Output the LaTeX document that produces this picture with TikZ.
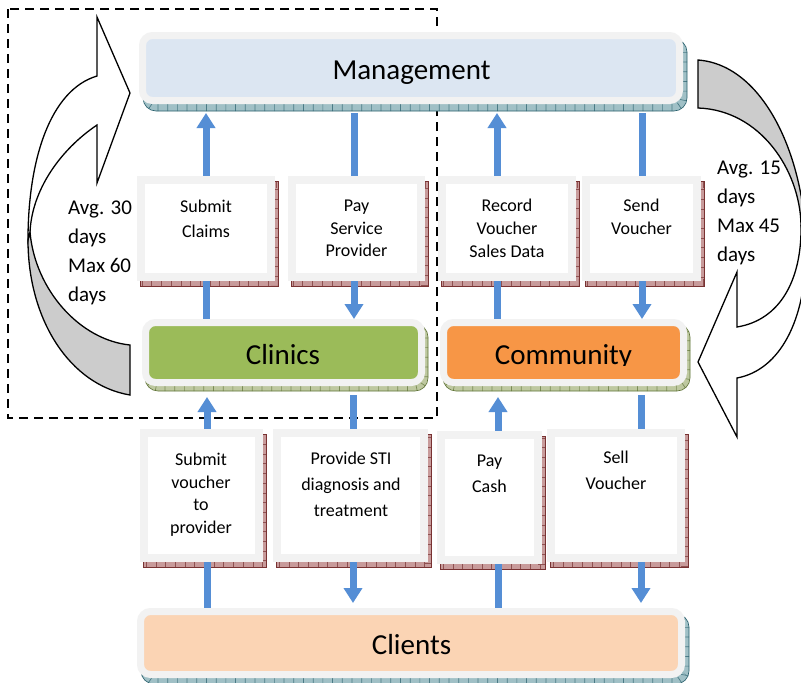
\documentclass[tikz,border=0pt]{standalone}
\usepackage{fontspec}
\setmainfont{Carlito}
\usetikzlibrary{arrows.meta,backgrounds}

\definecolor{framegray}{RGB}{242,242,242}
\definecolor{mgmtblue}{RGB}{220,230,242}
\definecolor{clinicgreen}{RGB}{155,187,89}
\definecolor{commorange}{RGB}{247,150,70}
\definecolor{clientpeach}{RGB}{251,212,180}
\definecolor{flowblue}{RGB}{85,142,213}
\definecolor{arrowgray}{RGB}{204,204,204}
\definecolor{tealfill}{RGB}{160,192,198}
\definecolor{tealdark}{RGB}{40,95,108}
\definecolor{olivefill}{RGB}{190,200,160}
\definecolor{olivedark}{RGB}{95,115,55}
\definecolor{redfill}{RGB}{200,155,155}
\definecolor{reddark}{RGB}{120,50,50}

\newcommand\drawshadow[6]{%
  \path[fill=#4, draw=#5, line width=0.6pt, rounded corners=#6]
    ([shift={(#2,#3)}]#1.north west) rectangle ([shift={(#2,#3)}]#1.south east);
  \begin{scope}
    \clip[rounded corners=#6] ([shift={(#2,#3)}]#1.north west) rectangle ([shift={(#2,#3)}]#1.south east);
    \draw[#5, opacity=0.7, line width=14pt, dash pattern=on 0.7pt off 9pt, rounded corners=#6]
      ([shift={(#2,#3)}]#1.north west) rectangle ([shift={(#2,#3)}]#1.south east);
  \end{scope}}

\tikzset{
  bigbox/.style={draw=framegray, line width=7pt, rounded corners=10pt, inner sep=0pt},
  stepbox/.style={draw=framegray, fill=white, line width=8pt, inner sep=0pt},
  bigtext/.style={font=\fontsize{29pt}{34pt}\selectfont, inner sep=0pt, anchor=base},
  steptext/.style={align=center, inner sep=0pt, anchor=north},
  sidetext/.style={align=left, inner sep=0pt, anchor=north west, font=\fontsize{21pt}{29pt}\selectfont},
  flow/.style={flowblue, line width=7pt, -{Triangle[width=18pt,length=15pt]}},
  curvedbody/.style={draw=black, line width=1.3pt, line join=miter},
  dashframe/.style={draw=black, line width=1.6pt, dash pattern=on 9pt off 6pt}
}
\newcommand\fstrut{\rule{0pt}{13.5pt}}
\newcommand\bstrut{\rule{0pt}{15.5pt}}

\begin{document}
\begin{tikzpicture}[x=1pt,y=-1pt]
\useasboundingbox (0,0) rectangle (801,683);
\clip (0,0) rectangle (801,683);

% main boxes
\node[bigbox, fill=mgmtblue, minimum width=537pt, minimum height=65pt] (mgmt) at (411,68) {};
\node[bigbox, fill=clinicgreen, minimum width=276pt, minimum height=60pt] (clinics) at (283.5,352.5) {};
\node[bigbox, fill=commorange, minimum width=240pt, minimum height=60pt] (community) at (563.5,352.5) {};
\node[bigbox, fill=clientpeach, minimum width=541pt, minimum height=63pt] (clients) at (411,643) {};

% step boxes
\node[stepbox, minimum width=130pt, minimum height=97pt] (claims) at (206,228.5) {};
\node[stepbox, minimum width=129pt, minimum height=97pt] (paysp) at (356.5,228.5) {};
\node[stepbox, minimum width=130pt, minimum height=97pt] (record) at (507,228.5) {};
\node[stepbox, minimum width=111pt, minimum height=97pt] (sendv) at (641.5,228.5) {};
\node[stepbox, minimum width=115pt, minimum height=125pt] (subv) at (201.5,495.5) {};
\node[stepbox, minimum width=147pt, minimum height=125pt] (prov) at (350.5,495.5) {};
\node[stepbox, minimum width=97pt, minimum height=125pt] (cash) at (489.5,497.5) {};
\node[stepbox, minimum width=130pt, minimum height=125pt] (sell) at (616,495.5) {};

% labels
\node[bigtext] (mgmtT) at (411.5,79) {Management};
\node[bigtext] (clinT) at (283,364) {Clinics};
\begin{scope}
  \clip (440,300) rectangle (690,365.5);
  \node[bigtext] (commT) at (563.5,364) {Community};
\end{scope}
\node[bigtext] (cliT) at (411.5,654) {Clients};

\node[steptext, font=\fontsize{18pt}{25pt}\selectfont] (claimsT) at (206,198.5) {\fstrut Submit\\Claims};
\node[steptext, font=\fontsize{18pt}{22.5pt}\selectfont] (payspT) at (356.5,198) {\fstrut Pay\\Service\\Provider};
\node[steptext, font=\fontsize{18pt}{23pt}\selectfont] (recordT) at (507,198) {\fstrut Record\\Voucher\\Sales Data};
\node[steptext, font=\fontsize{18pt}{23pt}\selectfont] (sendvT) at (641.5,198) {\fstrut Send\\Voucher};
\node[steptext, font=\fontsize{18pt}{22.6pt}\selectfont] (subvT) at (201,452) {\fstrut Submit\\voucher\\to\\provider};
\node[steptext, font=\fontsize{18pt}{26pt}\selectfont] (provT) at (351,451) {\fstrut Provide STI\\diagnosis and\\treatment};
\node[steptext, font=\fontsize{18pt}{26pt}\selectfont] (cashT) at (489.5,453) {\fstrut Pay\\Cash};
\node[steptext, font=\fontsize{18pt}{26pt}\selectfont] (sellT) at (616,450) {\fstrut Sell\\Voucher};

% x positions of the flow arrows
\coordinate (xa1) at (206,0);
\coordinate (xa2) at (354,0);
\coordinate (xa3) at (497,0);
\coordinate (xa4) at (642,0);
\coordinate (xb1) at (207,0);
\coordinate (xb2) at (353,0);
\coordinate (xb3) at (498,0);
\coordinate (xb4) at (641,0);

\begin{pgfonlayer}{background}
  \fill[white] (0,0) rectangle (801,683);
  % dashed frame (behind the boxes)
  \draw[dashframe] (8,9) rectangle (437,418);
  % shadows
  \drawshadow{mgmt}{4}{7}{tealfill}{tealdark}{13pt}
  \drawshadow{clients}{4}{6}{tealfill}{tealdark}{13pt}
  \drawshadow{clinics}{3}{5}{olivefill}{olivedark}{13pt}
  \drawshadow{community}{3}{5}{olivefill}{olivedark}{13pt}
  \drawshadow{claims}{3}{5}{redfill}{reddark}{0pt}
  \drawshadow{paysp}{3}{5}{redfill}{reddark}{0pt}
  \drawshadow{record}{3}{5}{redfill}{reddark}{0pt}
  \drawshadow{sendv}{3}{5}{redfill}{reddark}{0pt}
  \drawshadow{subv}{3}{5}{redfill}{reddark}{0pt}
  \drawshadow{prov}{3}{5}{redfill}{reddark}{0pt}
  \drawshadow{cash}{3}{5}{redfill}{reddark}{0pt}
  \drawshadow{sell}{3}{5}{redfill}{reddark}{0pt}
  % flow arrows
  \draw[flow, shorten >=9pt] (xa1 |- clinics.north) -- (xa1 |- mgmt.south);
  \draw[flow, shorten <=9pt] (xa2 |- mgmt.south) -- (xa2 |- clinics.north);
  \draw[flow, shorten >=9pt] (xa3 |- community.north) -- (xa3 |- mgmt.south);
  \draw[flow, shorten <=9pt] (xa4 |- mgmt.south) -- (xa4 |- community.north);
  \draw[flow, shorten >=11pt] (xb1 |- clients.north) -- (xb1 |- clinics.south);
  \draw[flow, shorten <=9pt, shorten >=5pt] (xb2 |- clinics.south) -- (xb2 |- clients.north);
  \draw[flow, shorten >=11pt] (xb3 |- clients.north) -- (xb3 |- community.south);
  \draw[flow, shorten <=9pt, shorten >=5pt] (xb4 |- community.south) -- (xb4 |- clients.north);
\end{pgfonlayer}

% left curved arrow
\path[curvedbody, fill=arrowgray] (30,232) .. controls (35,290) and (80,340) .. (130,345)
  -- (130,395) .. controls (70,385) and (28,320) .. (28,240) -- cycle;
\path[curvedbody, fill=white] (97,76) -- (97,17) -- (130,93) -- (97,183) -- (97,125)
  .. controls (60,150) and (32,190) .. (30,232) -- (28,240)
  .. controls (28,160) and (50,90) .. (97,76) -- cycle;

% right curved arrow
\path[curvedbody, fill=arrowgray] (698,60) .. controls (765,65) and (806,160) .. (806,250)
  -- (801,225) .. controls (800,170) and (760,110) .. (698,108) -- cycle;
\path[curvedbody, fill=white] (801,225) .. controls (802,280) and (780,320) .. (737,327)
  -- (737,272) -- (698,362) -- (737,437) -- (737,378)
  .. controls (780,370) and (806,320) .. (806,250) -- cycle;

\node[sidetext] (leftT) at (68,198.5) {\bstrut Avg. 30\\days\\Max 60\\days};
\node[sidetext] (rightT) at (717,158.5) {\bstrut Avg. 15\\days\\Max 45\\days};

\end{tikzpicture}
\end{document}
